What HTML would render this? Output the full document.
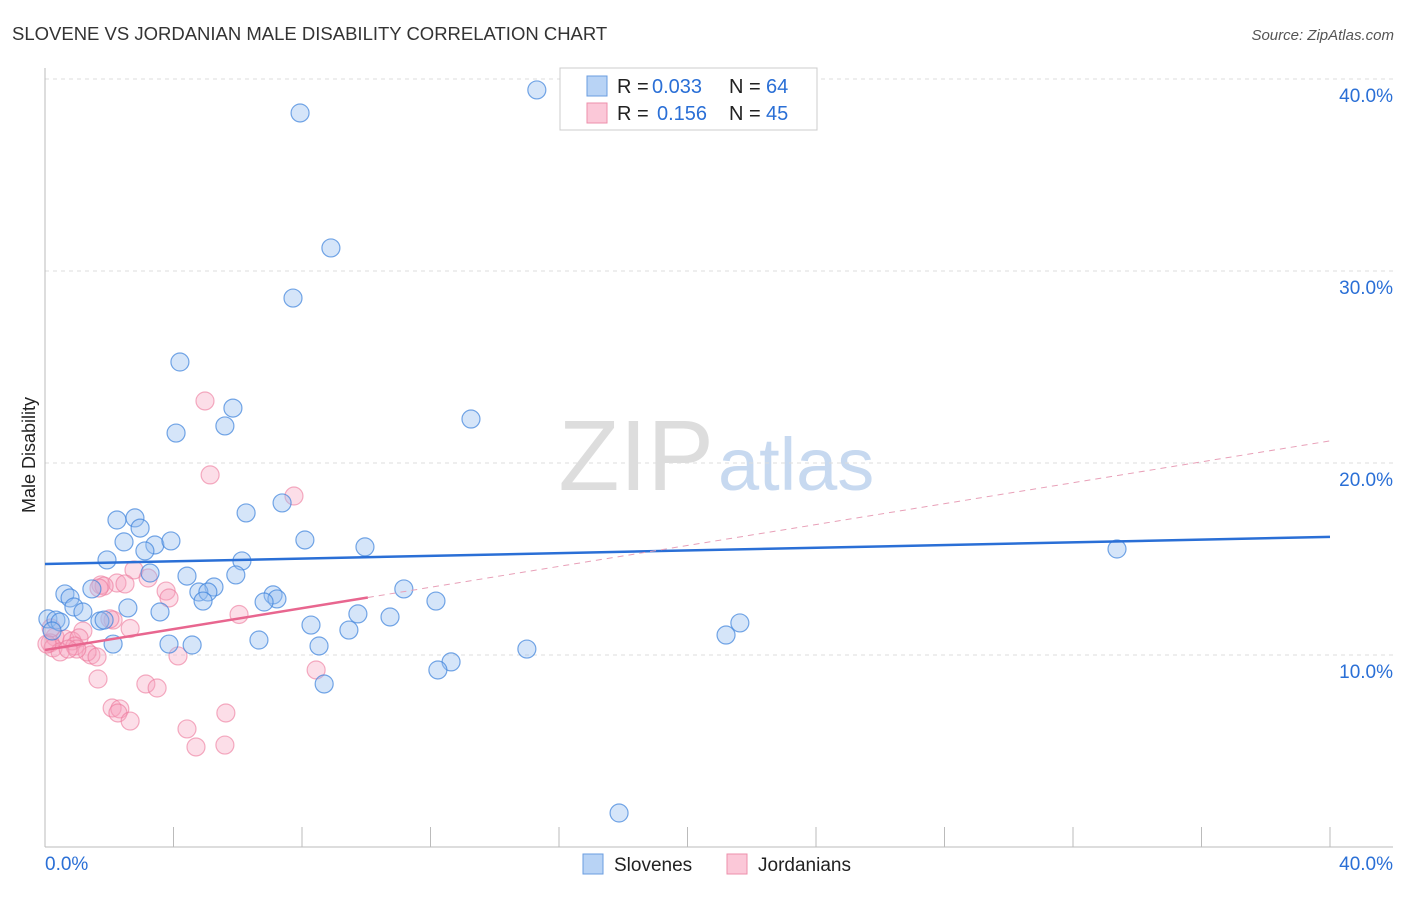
<!DOCTYPE html>
<html><head><meta charset="utf-8"><style>
body{margin:0;background:#fff;font-family:"Liberation Sans",sans-serif}
svg text{font-family:"Liberation Sans",sans-serif}
</style></head><body>
<svg id="c" width="1406" height="892" xmlns="http://www.w3.org/2000/svg">
<text x="12" y="40" font-size="18.5" fill="#333">SLOVENE VS JORDANIAN MALE DISABILITY CORRELATION CHART</text>
<text x="1394" y="40" font-size="15" fill="#555" font-style="italic" text-anchor="end">Source: ZipAtlas.com</text>
<text x="714" y="490" font-size="100" fill="#ddd" text-anchor="end" font-family="Liberation Serif">ZIP</text>
<text x="718" y="490" font-size="74" fill="#c7d9f0">atlas</text>
<text x="35" y="455" font-size="18" fill="#222" text-anchor="middle" transform="rotate(-90 35 455)">Male Disability</text>
<g id="grid"></g><g id="pts"></g><g id="lines"></g>
<g>
<rect x="560" y="68" width="257" height="62" fill="#fff" stroke="#ccc"/>
<rect x="587" y="76" width="20" height="20" fill="#b8d3f5" stroke="#6a9de0"/>
<rect x="587" y="103" width="20" height="20" fill="#fbc8d8" stroke="#ee8fab"/>
<text x="617" y="93" font-size="20" fill="#222">R =</text>
<text x="652" y="93" font-size="20" fill="#2a6fd6">0.033</text>
<text x="729" y="93" font-size="20" fill="#222">N =</text>
<text x="766" y="93" font-size="20" fill="#2a6fd6">64</text>
<text x="617" y="120" font-size="20" fill="#222">R =</text>
<text x="657" y="120" font-size="20" fill="#2a6fd6">0.156</text>
<text x="729" y="120" font-size="20" fill="#222">N =</text>
<text x="766" y="120" font-size="20" fill="#2a6fd6">45</text>
</g>
<g>
<rect x="583" y="854" width="20" height="20" fill="#b8d3f5" stroke="#6a9de0"/>
<text x="614" y="871" font-size="19" fill="#222">Slovenes</text>
<rect x="727" y="854" width="20" height="20" fill="#fbc8d8" stroke="#ee8fab"/>
<text x="758" y="871" font-size="19" fill="#222">Jordanians</text>
</g>
</svg>
<script>
const yTicks=[10,20,30,40];
const yTickLabels=["10.0%","20.0%","30.0%","40.0%"];
const sloveneX=[15.31,7.94,8.90,7.72,4.20,5.85,4.08,5.60,13.26,6.26,7.38,2.24,2.80,2.96,2.46,3.42,3.92,3.11,8.09,9.96,33.37,1.93,6.13,3.27,4.42,5.94,5.26,4.79,5.07,4.92,7.10,7.22,11.17,12.17,6.82,0.62,0.78,1.46,0.90,1.18,2.58,3.58,9.74,10.74,8.28,9.46,1.71,1.84,0.09,0.34,0.47,0.22,2.12,3.86,4.58,6.66,8.53,15.00,21.20,21.63,12.64,12.23,8.69,17.87];
const sloveneY=[39.43,38.23,31.20,28.59,25.26,22.86,21.56,21.93,22.29,17.40,17.92,17.03,17.14,16.61,15.89,15.73,15.94,15.42,15.99,15.63,15.52,14.95,14.90,14.27,14.11,14.17,13.54,13.28,13.28,12.81,13.13,12.92,13.44,12.81,12.76,13.18,12.97,13.44,12.50,12.24,12.45,12.24,12.14,11.98,11.56,11.30,11.77,11.82,11.88,11.82,11.72,11.25,10.57,10.57,10.52,10.78,10.47,10.31,11.04,11.67,9.64,9.22,8.49,1.77];
const jordanX=[4.98,5.14,7.75,2.77,3.21,1.74,2.24,2.49,3.77,3.86,1.84,6.04,2.65,2.12,1.18,0.31,0.62,0.84,0.16,1.06,0.25,0.93,1.43,1.31,1.62,0.47,0.99,0.06,0.72,2.02,1.68,4.14,8.44,1.65,3.14,3.49,2.09,2.33,2.27,2.65,5.63,4.42,4.70,5.60,0.19];
const jordanY=[23.23,19.38,18.28,14.43,14.01,13.65,13.75,13.70,13.33,12.97,13.59,12.11,11.38,11.82,11.25,10.94,10.83,10.73,10.63,10.89,10.37,10.47,10.00,10.16,9.90,10.16,10.31,10.57,10.31,11.88,13.49,9.95,9.22,8.75,8.49,8.28,7.24,7.19,6.98,6.56,6.98,6.15,5.21,5.31,11.41];
const sloveneTrend=[14.74,16.15];
const jordanTrend=[10.26,21.15];
const sx=v=>45+v*32.125, sy=v=>847-v*19.2;
const NS="http://www.w3.org/2000/svg";
function mk(p,t,a){const e=document.createElementNS(NS,t);for(const k in a)e.setAttribute(k,a[k]);p.appendChild(e);return e;}
const g=document.getElementById('grid');
yTicks.forEach((t,i)=>{
 const l=mk(g,'line',{x1:45,x2:1393,y1:sy(t),y2:sy(t),stroke:'#ddd','stroke-dasharray':'4,4'});
 
 
 const tx=mk(g,'text',{x:1393,y:sy(t)+23,'font-size':19,fill:'#2a6fd6','text-anchor':'end'});
 tx.textContent=yTickLabels[i];
 
 
});
const ax=mk(g,'line',{x1:45,x2:45,y1:68,y2:847,stroke:'#bbb'});


const bx=mk(g,'line',{x1:45,x2:1393,y1:847,y2:847,stroke:'#bbb'});


for(let i=0;i<=10;i++){const t=mk(g,'line',{x1:sx(i*4),x2:sx(i*4),y1:827,y2:847,stroke:'#bbb'});
 
 }
[["0.0%",45,'start'],["40.0%",1393,'end']].forEach(d=>{const t=mk(g,'text',{x:d[1],y:870,'font-size':19,fill:'#2a6fd6','text-anchor':d[2]});t.textContent=d[0];
 
 });
const P=document.getElementById('pts');
jordanX.forEach((x,i)=>{const c=mk(P,'circle',{cx:sx(x),cy:sy(jordanY[i]),r:9,fill:'rgba(246,160,188,0.35)',stroke:'rgba(236,120,155,0.6)','stroke-width':1.2});
 
 });
sloveneX.forEach((x,i)=>{const c=mk(P,'circle',{cx:sx(x),cy:sy(sloveneY[i]),r:9,fill:'rgba(150,190,240,0.4)',stroke:'rgba(60,130,220,0.7)','stroke-width':1.2});
 
 });
const L=document.getElementById('lines');
const s1=mk(L,'line',{x1:sx(0),y1:sy(sloveneTrend[0]),x2:sx(40),y2:sy(sloveneTrend[1]),stroke:'#2a6fd6','stroke-width':2.5});


const jy=x=>jordanTrend[0]+(jordanTrend[1]-jordanTrend[0])*x/40;
const j1=mk(L,'line',{x1:sx(0),y1:sy(jy(0)),x2:sx(10.05),y2:sy(jy(10.05)),stroke:'#e8668f','stroke-width':2.5});


const j2=mk(L,'line',{x1:sx(10.05),y1:sy(jy(10.05)),x2:sx(40),y2:sy(jy(40)),stroke:'#e8a0b8','stroke-width':1,'stroke-dasharray':'6,5'});


</script>
</body></html>
